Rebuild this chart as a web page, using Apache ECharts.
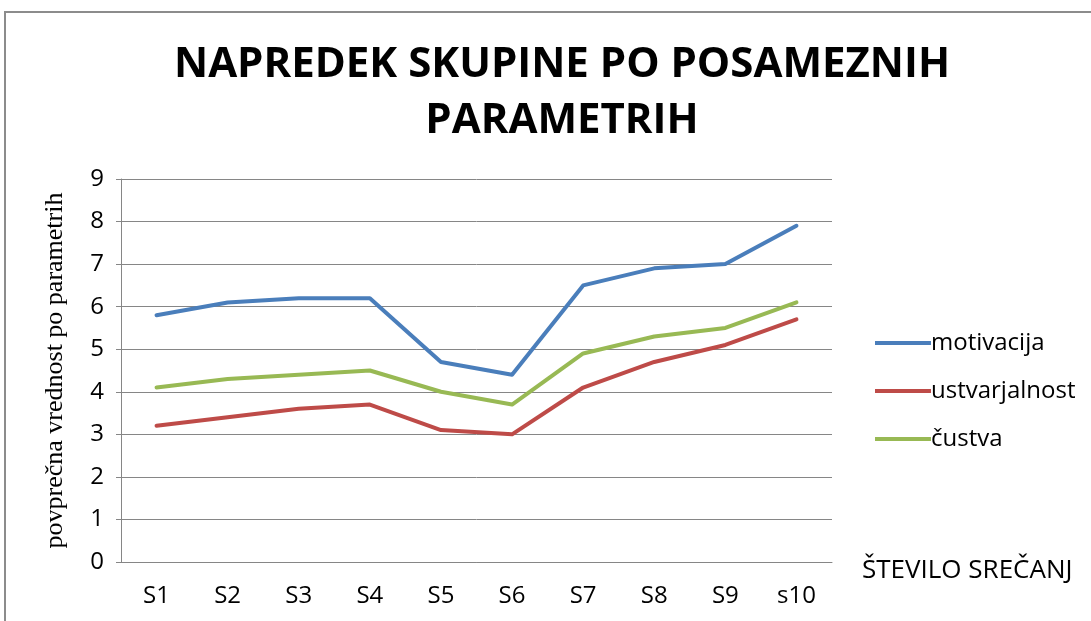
<!DOCTYPE html>
<html>
<head>
<meta charset="utf-8">
<script src="https://cdn.jsdelivr.net/npm/echarts@6/dist/echarts.min.js"></script>
<style>html,body{margin:0;padding:0;background:#fff;}#c{width:1091px;height:621px;}</style>
</head>
<body>
<div id="c"></div>
<script>
const categories = ['S1','S2','S3','S4','S5','S6','S7','S8','S9','s10'];
const motivacija = [5.8, 6.1, 6.2, 6.2, 4.7, 4.4, 6.5, 6.9, 7.0, 7.9];
const ustvarjalnost = [3.2, 3.4, 3.6, 3.7, 3.1, 3.0, 4.1, 4.7, 5.1, 5.7];
const custva = [4.1, 4.3, 4.4, 4.5, 4.0, 3.7, 4.9, 5.3, 5.5, 6.1];
const seriesNames = ['motivacija', 'ustvarjalnost', 'čustva'];
const colors = ['#4A7EBB', '#BE4B48', '#98B954'];

const chart = echarts.init(document.getElementById('c'));
const mk = (name, data, color) => ({
  name, type: 'line', data, symbol: 'none', smooth: false,
  lineStyle: { color, width: 4, cap: 'round', join: 'round' },
  itemStyle: { color }
});
chart.setOption({
  backgroundColor: '#fff',
  animation: false,
  title: {
    text: 'NAPREDEK SKUPINE PO POSAMEZNIH\nPARAMETRIH',
    left: 557, top: 32, textAlign: 'center',
    textStyle: { fontFamily: 'Open Sans', fontWeight: 'bold', fontSize: 42, lineHeight: 56, color: '#000' }
  },
  legend: {
    orient: 'vertical', left: 870, top: 326,
    itemWidth: 56, itemHeight: 4, itemGap: 24,
    icon: 'rect',
    data: seriesNames,
    textStyle: { fontFamily: 'Open Sans', fontSize: 24, color: '#000', padding: [0,0,0,-5] }
  },
  grid: { left: 121, right: 259, top: 179, bottom: 59 },
  xAxis: {
    type: 'category', data: categories, boundaryGap: true,
    axisLine: { lineStyle: { color: '#868686', width: 1 } },
    axisTick: { show: false },
    axisLabel: { fontFamily: 'Open Sans', fontSize: 24, color: '#000', margin: 22 }
  },
  yAxis: {
    type: 'value', min: 0, max: 9, interval: 1,
    name: 'povprečna vrednost po parametrih',
    nameLocation: 'middle', nameGap: 53, nameRotate: 90,
    nameTextStyle: { fontFamily: 'Liberation Serif', fontSize: 26, color: '#000' },
    axisLine: { show: true, lineStyle: { color: '#868686', width: 1 } },
    axisTick: { show: true, length: 5, lineStyle: { color: '#868686' } },
    splitLine: { lineStyle: { color: '#868686', width: 1 } },
    axisLabel: { fontFamily: 'Open Sans', fontSize: 24, color: '#000', margin: 17 }
  },
  graphic: [
    { type: 'rect', shape: { x: 5, y: 12, width: 1200, height: 800 }, style: { fill: 'none', stroke: '#8c8c8c', lineWidth: 2 }, silent: true },
    { type: 'text', left: 862, top: 558, style: { text: 'ŠTEVILO SREČANJ', font: '26px "Open Sans"', fill: '#000' } }
  ],
  series: [
    mk(seriesNames[0], motivacija, colors[0]),
    mk(seriesNames[1], ustvarjalnost, colors[1]),
    mk(seriesNames[2], custva, colors[2])
  ]
});
</script>
</body>
</html>
